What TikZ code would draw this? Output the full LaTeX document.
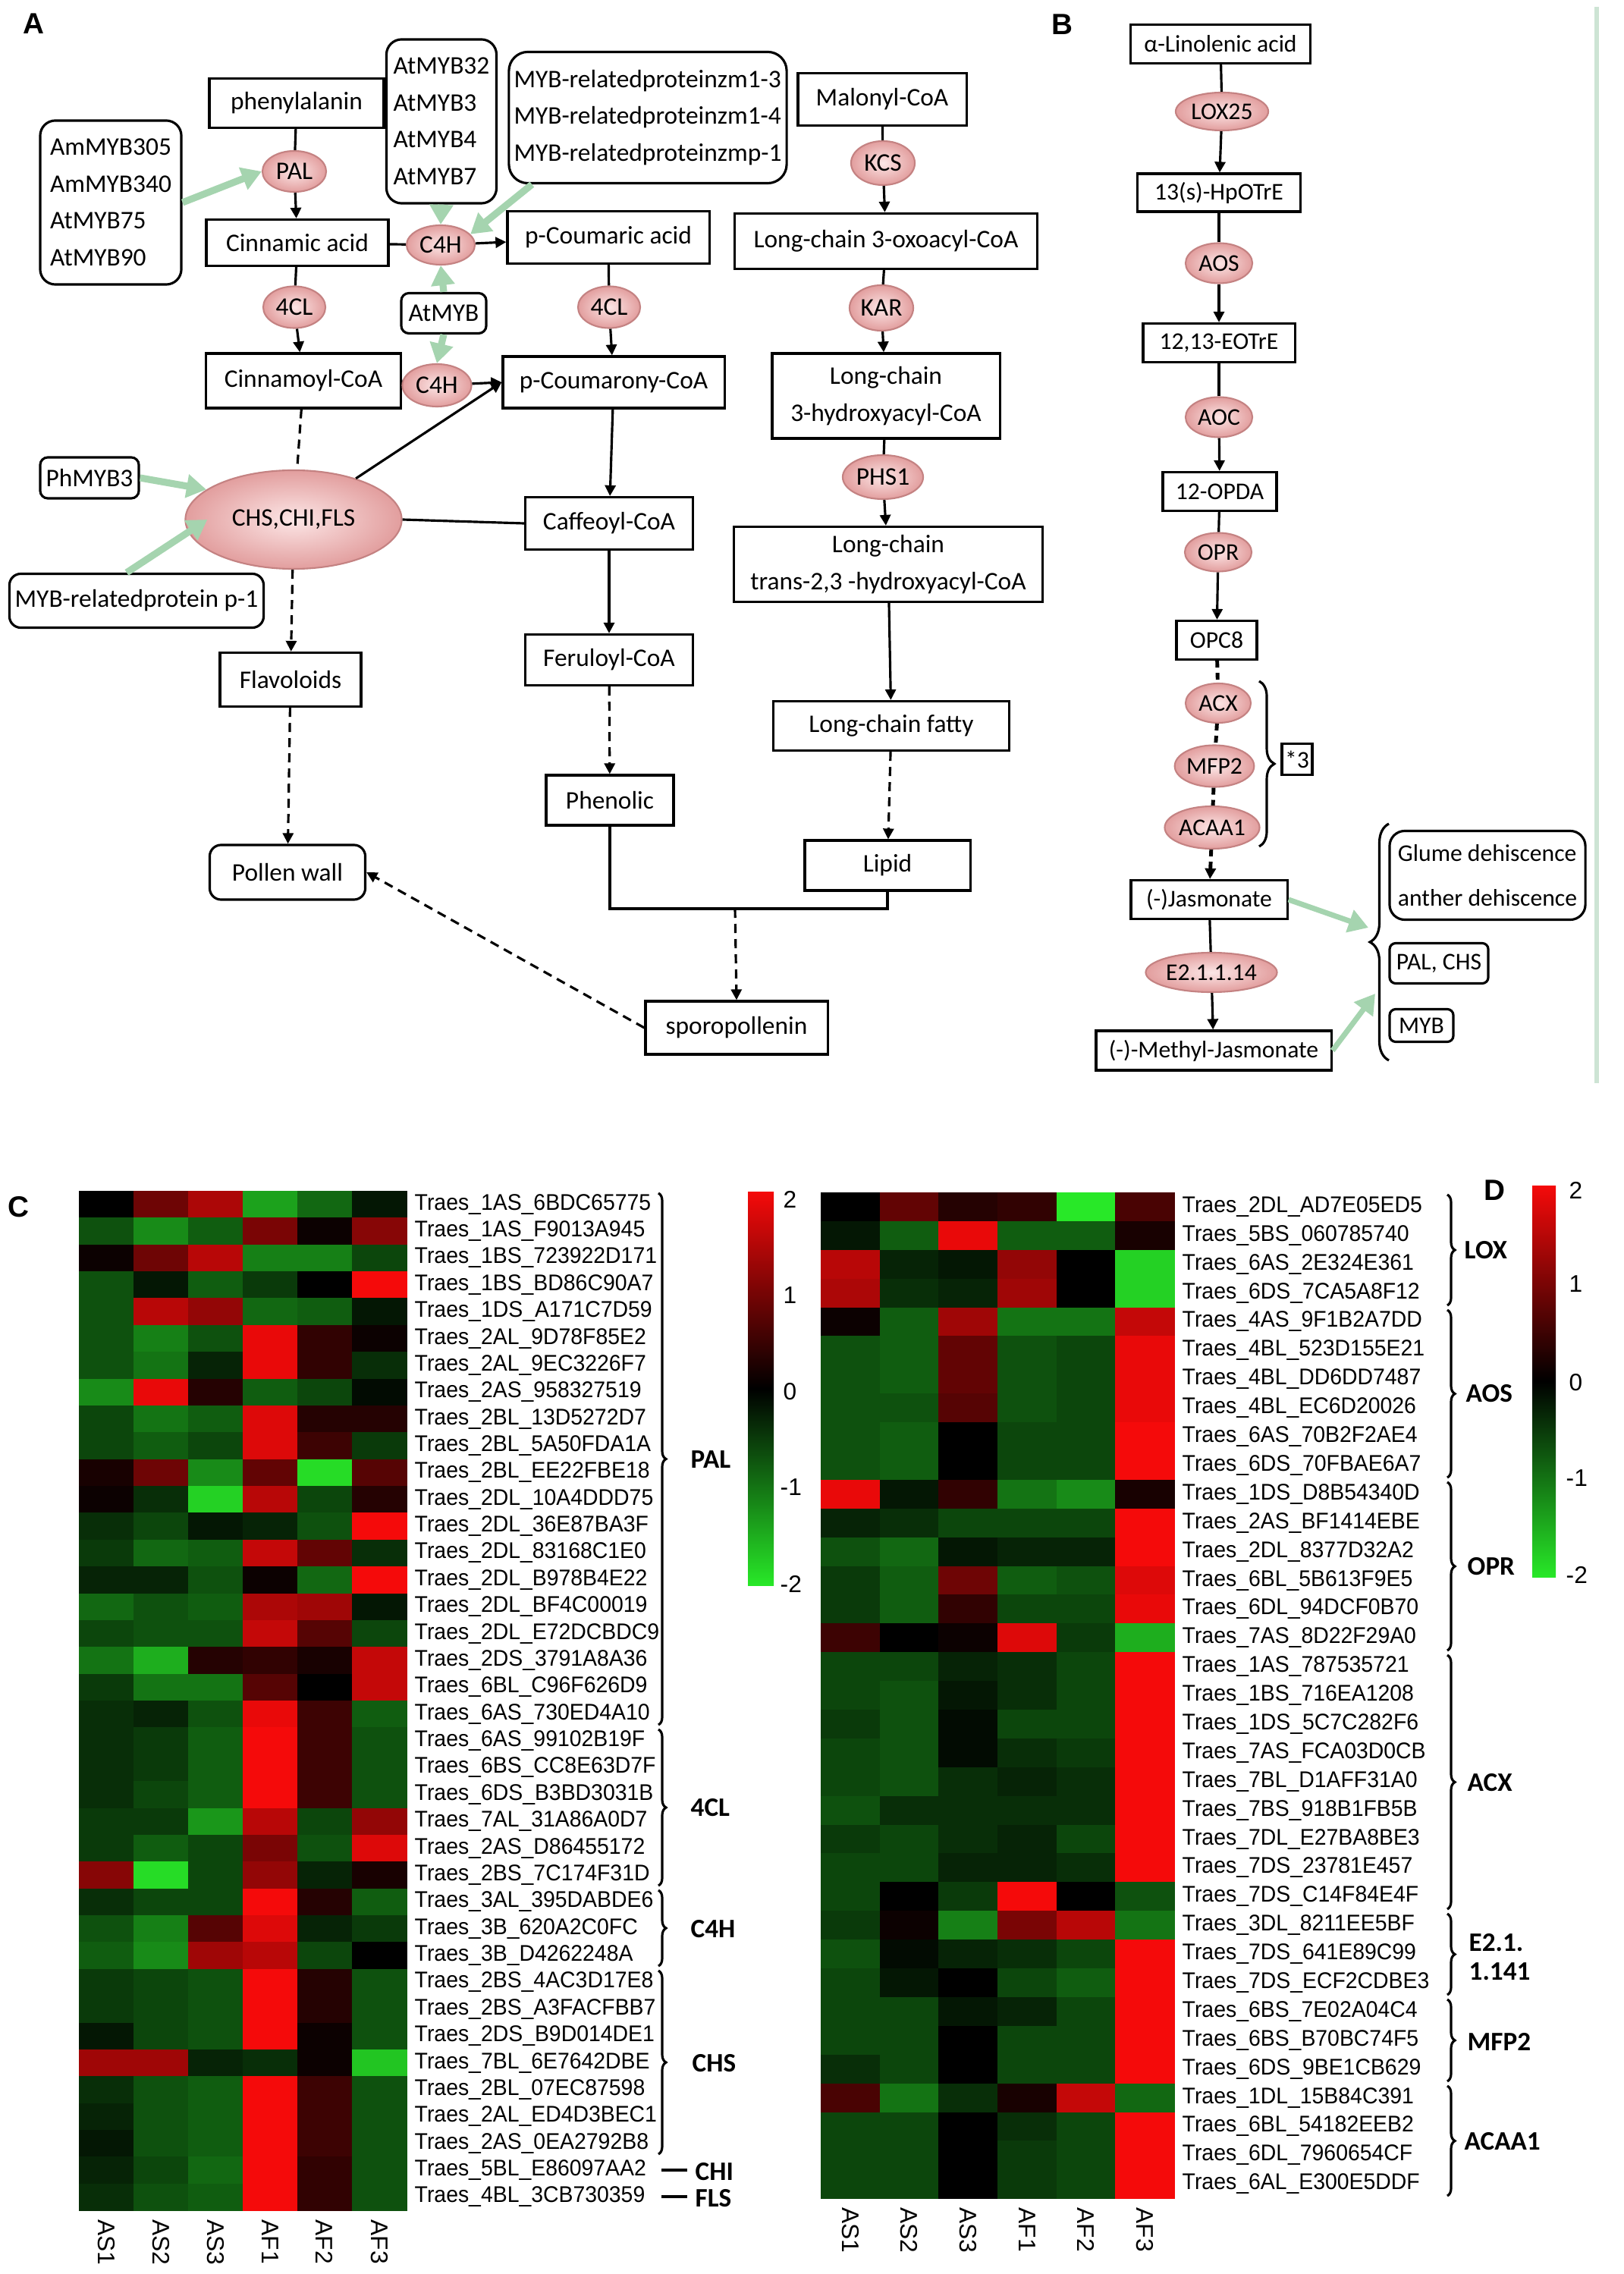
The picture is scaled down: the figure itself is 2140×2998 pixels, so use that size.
\documentclass[tikz,border=0pt]{standalone}
\usepackage{fontspec}
\setmainfont{Carlito}
\newfontfamily\hmfont[FakeStretch=0.95]{Liberation Sans}
\newfontfamily\pnfont{Liberation Sans}
\usepackage{xcolor}
\usepackage{tikz}
\usetikzlibrary{shapes.geometric,arrows.meta,decorations.pathreplacing}

\definecolor{enzin}{RGB}{252,230,230}
\definecolor{enzout}{RGB}{226,158,158}
\definecolor{enzline}{RGB}{196,130,130}
\definecolor{reggreen}{RGB}{165,212,175}
\definecolor{hmred}{RGB}{245,10,10}
\definecolor{hmgreen}{RGB}{40,232,40}
\definecolor{sepline}{RGB}{205,228,212}

\newcommand\sethmcolor[1]{%
  \pgfmathsetmacro\hmpct{min(100,50*abs(#1))}%
  \pgfmathtruncatemacro\hmneg{(#1)<0}%
  \ifnum\hmneg=1 \colorlet{hmc}{hmgreen!\hmpct!black}%
  \else \colorlet{hmc}{hmred!\hmpct!black}\fi}

\begin{document}
\begin{tikzpicture}[x=0.01cm, y=-0.01cm,
    font=\fontsize{9.5}{13.8}\selectfont,
    box/.style={draw, line width=0.9pt, inner sep=0pt, align=center},
    rbox/.style={box, rounded corners=0.2cm},
    enz/.style={ellipse, draw=enzline, line width=0.6pt, inner color=enzin, outer color=enzout, inner sep=0pt},
    bfont/.style={font=\fontsize{9}{12}\selectfont},
    flow/.style={line width=0.9pt, -{Triangle[length=0.14cm, width=0.14cm]}},
    dflow/.style={flow, dash pattern=on 0.12cm off 0.08cm},
    link/.style={line width=0.9pt},
    bdot/.style={line width=1.4pt, dash pattern=on 0.09cm off 0.07cm},
    reg/.style={line width=2.6pt, draw=reggreen, -{Triangle[length=0.26cm, width=0.3cm]}},
    hmlab/.style={anchor=west, inner sep=0pt, font=\hmfont\fontsize{8.5}{10}\selectfont},
    grp/.style={anchor=west, inner sep=0pt, align=left, font=\bfseries\fontsize{10}{11}\selectfont},
    cbar/.style={anchor=west, inner sep=0pt, font=\pnfont\fontsize{9}{10}\selectfont},
    collab/.style={rotate=-90, anchor=west, inner sep=0pt, font=\pnfont\fontsize{9}{10}\selectfont},
    panel/.style={inner sep=0pt, font=\pnfont\bfseries\fontsize{11}{12}\selectfont},
    hbrace/.style={decorate, decoration={brace, amplitude=0.1cm}, line width=0.9pt}]

    \fill[white] (0,0) rectangle (2140,2998);

    % A: phenylpropanoid and fatty acid routes
    \node[panel] (la) at (44,31) {A};
    \node[box, minimum width=2.3cm, minimum height=0.65cm] (phen) at (391,136) {phenylalanin};
    \node[enz, minimum width=0.84cm, minimum height=0.54cm] (pal) at (388,226) {PAL};
    \node[box, minimum width=2.4cm, minimum height=0.61cm] (cin) at (392,320) {Cinnamic acid};
    \node[enz, minimum width=0.9cm, minimum height=0.52cm] (c4ha) at (581,323) {C4H};
    \node[box, minimum width=2.66cm, minimum height=0.69cm] (pcou) at (802,313) {p-Coumaric acid};
    \node[enz, minimum width=0.82cm, minimum height=0.55cm] (cla) at (388,405) {4CL};
    \node[enz, minimum width=0.82cm, minimum height=0.55cm] (clb) at (803,405) {4CL};
    \node[rbox, rounded corners=0.1cm, minimum width=1.12cm, minimum height=0.53cm] (atmyb) at (585,413) {AtMYB};
    \node[box, minimum width=2.57cm, minimum height=0.72cm] (cinco) at (400,502) {Cinnamoyl-CoA};
    \node[enz, minimum width=0.91cm, minimum height=0.56cm] (c4hb) at (576,508) {C4H};
    \node[box, minimum width=2.92cm, minimum height=0.68cm] (pcoa) at (809,504) {p-Coumarony-CoA};
    \node[rbox, align=left, minimum width=1.86cm, minimum height=2.16cm] (ammyb) at (146,267) {AmMYB305\\AmMYB340\\AtMYB75\\AtMYB90};
    \node[rbox, align=left, minimum width=1.45cm, minimum height=2.16cm] (atmybs) at (582,160) {AtMYB32\\AtMYB3\\AtMYB4\\AtMYB7};
    \node[rbox, rounded corners=0.25cm, align=left, minimum width=3.66cm, minimum height=1.73cm] (mybrel) at (854,155) {MYB-relatedproteinzm1-3\\MYB-relatedproteinzm1-4\\MYB-relatedproteinzmp-1};
    \node[enz, minimum width=2.85cm, minimum height=1.3cm] (chs) at (387,685) {CHS,CHI,FLS};
    \node[rbox, rounded corners=0.1cm, minimum width=1.3cm, minimum height=0.54cm] (phmyb) at (118,630) {PhMYB3};
    \node[rbox, rounded corners=0.15cm, minimum width=3.35cm, minimum height=0.71cm] (mybp) at (180,792) {MYB-relatedprotein p-1};
    \node[box, minimum width=2.21cm, minimum height=0.69cm] (caf) at (803,690) {Caffeoyl-CoA};
    \node[box, minimum width=1.86cm, minimum height=0.71cm] (flav) at (383,896) {Flavoloids};
    \node[box, minimum width=2.21cm, minimum height=0.67cm] (fer) at (803,870) {Feruloyl-CoA};
    \node[box, minimum width=1.68cm, minimum height=0.66cm] (phe) at (804,1055) {Phenolic};
    \node[rbox, rounded corners=0.15cm, minimum width=2.05cm, minimum height=0.72cm] (pollen) at (379,1150) {Pollen wall};
    \node[box, minimum width=2.4cm, minimum height=0.7cm] (spo) at (971,1355) {sporopollenin};
    \node[box, minimum width=2.22cm, minimum height=0.69cm] (mal) at (1163,131) {Malonyl-CoA};
    \node[enz, minimum width=0.84cm, minimum height=0.58cm] (kcs) at (1164,215) {KCS};
    \node[box, minimum width=3.98cm, minimum height=0.73cm] (oxo) at (1168,318) {Long-chain 3-oxoacyl-CoA};
    \node[enz, minimum width=0.84cm, minimum height=0.6cm] (kar) at (1162,406) {KAR};
    \node[box, minimum width=3cm, minimum height=1.12cm] (hyd) at (1168,522) {Long-chain\\3-hydroxyacyl-CoA};
    \node[enz, minimum width=1.06cm, minimum height=0.58cm] (phs) at (1164,629) {PHS1};
    \node[box, minimum width=4.07cm, minimum height=0.99cm] (trans) at (1171,744) {Long-chain\\trans-2,3 -hydroxyacyl-CoA};
    \node[box, minimum width=3.11cm, minimum height=0.65cm] (fatty) at (1175,957) {Long-chain fatty};
    \node[box, minimum width=2.18cm, minimum height=0.66cm] (lip) at (1170,1141) {Lipid};
    \coordinate (jn) at (969,1198);

    \draw[link] (phen) -- (pal);
    \draw[flow] (pal) -- (cin);
    \draw[link] (cin) -- (c4ha);
    \draw[flow] (c4ha) -- (pcou);
    \draw[link] (cin) -- (cla);
    \draw[flow] (cla) -- (cinco);
    \draw[link] (pcou) -- (clb);
    \draw[flow] (clb) -- (pcoa);
    \draw[link] (cinco.east) -- (c4hb);
    \draw[flow] (c4hb) -- (pcoa.west);
    \draw[link, dash pattern=on 0.12cm off 0.08cm] (cinco) -- (chs);
    \draw[flow] (chs) -- (pcoa.west);
    \draw[link] (chs.east) -- (caf.west);
    \draw[flow] (pcoa) -- (caf);
    \draw[flow] (caf) -- (fer);
    \draw[dflow] (fer) -- (phe);
    \draw[dflow] (chs) -- (flav);
    \draw[dflow] (flav) -- (pollen);
    \draw[link] (phe.south) |- (jn) -| (lip.south);
    \draw[dflow] (jn) -- (spo.north);
    \draw[dflow] (spo.west) -- (pollen.east);
    \draw[link] (mal) -- (kcs);
    \draw[flow] (kcs) -- (oxo);
    \draw[link] (oxo) -- (kar);
    \draw[flow] (kar) -- (hyd);
    \draw[link] (hyd) -- (phs);
    \draw[flow] (phs) -- (trans);
    \draw[flow] (trans) -- (fatty);
    \draw[dflow] (fatty) -- (lip);

    \draw[reg] (ammyb.east) -- (pal.west);
    \draw[reg] (atmybs.south) -- (c4ha.north);
    \draw[reg] (mybrel.210) -- (c4ha.20);
    \draw[reg] (atmyb.north) -- (c4ha.south);
    \draw[reg] (atmyb.south) -- (c4hb.north);
    \draw[reg] (phmyb.east) -- (chs.161);
    \draw[reg] ([xshift=-0.13cm]mybp.north) -- ([xshift=0.3cm]chs.west);

    % B: jasmonate route
    \node[panel] (lb) at (1400,32) {B};
    \node[box, bfont, minimum width=2.37cm, minimum height=0.51cm] (alin) at (1609,58) {α-Linolenic acid};
    \node[enz, bfont, minimum width=1.22cm, minimum height=0.5cm] (lox) at (1611,147) {LOX25};
    \node[box, bfont, minimum width=2.15cm, minimum height=0.5cm] (hpot) at (1607,254) {13(s)-HpOTrE};
    \node[enz, bfont, minimum width=0.88cm, minimum height=0.53cm] (aos) at (1607,347) {AOS};
    \node[box, bfont, minimum width=2cm, minimum height=0.51cm] (eot) at (1607,452) {12,13-EOTrE};
    \node[enz, bfont, minimum width=0.88cm, minimum height=0.53cm] (aoc) at (1607,550) {AOC};
    \node[box, bfont, minimum width=1.5cm, minimum height=0.51cm] (opda) at (1608,648) {12-OPDA};
    \node[enz, bfont, minimum width=0.88cm, minimum height=0.51cm] (opr) at (1606,728) {OPR};
    \node[box, bfont, minimum width=1.06cm, minimum height=0.51cm] (opc) at (1604,844) {OPC8};
    \node[enz, bfont, minimum width=0.86cm, minimum height=0.52cm] (acx) at (1606,927) {ACX};
    \node[enz, bfont, minimum width=1cm, minimum height=0.55cm] (mfp) at (1601,1010) {MFP2};
    \node[enz, bfont, minimum width=1.25cm, minimum height=0.56cm] (acaa) at (1598,1091) {ACAA1};
    \node[box, bfont, minimum width=0.4cm, minimum height=0.41cm] (times) at (1710,1001) {*3};
    \node[box, bfont, minimum width=2.06cm, minimum height=0.51cm] (jas) at (1594,1186) {(-)Jasmonate};
    \node[enz, bfont, minimum width=1.73cm, minimum height=0.52cm] (etwo) at (1597,1282) {E2.1.1.14};
    \node[box, bfont, minimum width=3.1cm, minimum height=0.52cm] (mjas) at (1600,1385) {(-)-Methyl-Jasmonate};
    \node[rbox, bfont, font=\fontsize{9}{16.8}\selectfont, align=left, minimum width=2.58cm, minimum height=1.17cm] (glume) at (1961,1154) {Glume dehiscence\\anther dehiscence};
    \node[rbox, bfont, rounded corners=0.08cm, minimum width=1.3cm, minimum height=0.53cm] (palchs) at (1897,1270) {PAL, CHS};
    \node[rbox, bfont, rounded corners=0.08cm, minimum width=0.84cm, minimum height=0.43cm] (myb) at (1874,1352) {MYB};
    \coordinate (ga) at (1804,1223);
    \coordinate (gb) at (1813,1310);

    \draw[link] (alin) -- (lox);
    \draw[flow] (lox) -- (hpot);
    \draw[link] (hpot) -- (aos);
    \draw[flow] (aos) -- (eot);
    \draw[link] (eot) -- (aoc);
    \draw[flow] (aoc) -- (opda);
    \draw[link] (opda) -- (opr);
    \draw[flow] (opr) -- (opc);
    \draw[bdot] (opc) -- (acx);
    \draw[bdot] (acx) -- (mfp);
    \draw[bdot] (mfp) -- (acaa);
    \draw[bdot, -{Triangle[length=0.14cm, width=0.14cm]}] (acaa) -- (jas);
    \draw[link] (jas) -- (etwo);
    \draw[flow] (etwo) -- (mjas);
    \draw[decorate, decoration={brace, amplitude=0.2cm}, line width=0.9pt] (1660,898) -- (1660,1116);
    \draw[decorate, decoration={brace, amplitude=0.25cm}, line width=0.9pt] (1831,1398) -- (1831,1086);
    \draw[reg, line width=2pt] (jas.east) -- (ga);
    \draw[reg, line width=2pt] (mjas.east) -- (gb);
    \draw[sepline, line width=1.5pt] (2105,9) -- (2105,1428);

    % C: heat map, phenylpropanoid genes
    \node[panel] (lc) at (24,1591) {C};
    \foreach \vals [count=\r] in {
      {0,0.9,1.4,-1.4,-0.9,-0.2}, {-0.7,-1.2,-0.8,1.0,0.1,1.1},
      {0.1,0.9,1.5,-1.1,-1.1,-0.6}, {-0.7,-0.2,-0.8,-0.5,0,2},
      {-0.7,1.5,1.2,-0.9,-0.8,-0.2}, {-0.7,-1.1,-0.7,1.9,0.4,0.1},
      {-0.7,-1.0,-0.3,1.9,0.4,-0.4}, {-1.2,1.9,0.3,-0.8,-0.6,-0.1},
      {-0.6,-1.0,-0.8,1.8,0.3,0.3}, {-0.6,-0.8,-0.6,1.8,0.5,-0.5},
      {0.2,0.9,-1.2,0.8,-1.9,0.7}, {0.1,-0.4,-1.8,1.5,-0.6,0.3},
      {-0.4,-0.6,-0.2,-0.3,-0.7,2}, {-0.5,-0.9,-0.8,1.6,0.8,-0.4},
      {-0.3,-0.3,-0.7,0.1,-0.9,2}, {-0.9,-0.7,-0.8,1.4,1.3,-0.2},
      {-0.6,-0.7,-0.7,1.6,0.7,-0.6}, {-1.0,-1.5,0.3,0.4,0.2,1.6},
      {-0.5,-1.0,-1.0,0.7,0,1.6}, {-0.4,-0.3,-0.7,1.9,0.5,-0.8},
      {-0.4,-0.5,-0.8,2,0.5,-0.7}, {-0.4,-0.5,-0.8,2,0.5,-0.7},
      {-0.4,-0.6,-0.8,2,0.5,-0.7}, {-0.5,-0.5,-1.3,1.5,-0.6,1.2},
      {-0.5,-0.8,-0.6,1.0,-0.7,1.8}, {1.1,-1.9,-0.6,1.2,-0.3,0.2},
      {-0.4,-0.6,-0.6,2,0.3,-0.8}, {-0.7,-1.1,0.7,1.8,-0.3,-0.5},
      {-0.8,-1.2,1.3,1.5,-0.6,0}, {-0.5,-0.6,-0.7,2,0.3,-0.7},
      {-0.5,-0.6,-0.7,2,0.3,-0.7}, {-0.2,-0.6,-0.7,2,0.1,-0.7},
      {1.3,1.3,-0.3,-0.4,0.1,-1.7}, {-0.4,-0.7,-0.8,2,0.5,-0.7},
      {-0.3,-0.7,-0.8,2,0.5,-0.7}, {-0.2,-0.7,-0.8,2,0.5,-0.7},
      {-0.3,-0.6,-0.9,2,0.4,-0.7}, {-0.4,-0.7,-0.8,2,0.4,-0.7}}{
      \foreach \v [count=\c] in \vals {
        \sethmcolor{\v}
        \fill[hmc] ({104+72*(\c-1)},{1570+35.37*(\r-1)}) rectangle +(72.6,35.9);
      }
    }
    \foreach \lab [count=\r] in {Traes\_1AS\_6BDC65775, Traes\_1AS\_F9013A945, Traes\_1BS\_723922D171,
      Traes\_1BS\_BD86C90A7, Traes\_1DS\_A171C7D59, Traes\_2AL\_9D78F85E2, Traes\_2AL\_9EC3226F7,
      Traes\_2AS\_958327519, Traes\_2BL\_13D5272D7, Traes\_2BL\_5A50FDA1A, Traes\_2BL\_EE22FBE18,
      Traes\_2DL\_10A4DDD75, Traes\_2DL\_36E87BA3F, Traes\_2DL\_83168C1E0, Traes\_2DL\_B978B4E22,
      Traes\_2DL\_BF4C00019, Traes\_2DL\_E72DCBDC9, Traes\_2DS\_3791A8A36, Traes\_6BL\_C96F626D9,
      Traes\_6AS\_730ED4A10, Traes\_6AS\_99102B19F, Traes\_6BS\_CC8E63D7F, Traes\_6DS\_B3BD3031B,
      Traes\_7AL\_31A86A0D7, Traes\_2AS\_D86455172, Traes\_2BS\_7C174F31D, Traes\_3AL\_395DABDE6,
      Traes\_3B\_620A2C0FC, Traes\_3B\_D4262248A, Traes\_2BS\_4AC3D17E8, Traes\_2BS\_A3FACFBB7,
      Traes\_2DS\_B9D014DE1, Traes\_7BL\_6E7642DBE, Traes\_2BL\_07EC87598, Traes\_2AL\_ED4D3BEC1,
      Traes\_2AS\_0EA2792B8, Traes\_5BL\_E86097AA2, Traes\_4BL\_3CB730359}
      \node[hmlab] (cl\r) at (546,{1570+35.37*(\r-0.5)}) {\lab};
    \foreach \lab [count=\c] in {AS1,AS2,AS3,AF1,AF2,AF3}
      \node[collab] (cc\c) at ({140+72*(\c-1)},2926) {\lab};
    \draw[hbrace] (868,1573) -- (868,2274);
    \draw[hbrace] (868,2280) -- (868,2486);
    \draw[hbrace] (868,2492) -- (868,2592);
    \draw[hbrace] (868,2598) -- (868,2840);
    \node[grp] (gpal) at (910,1924) {PAL};
    \node[grp] (gcl) at (910,2383) {4CL};
    \node[grp] (gch) at (910,2543) {C4H};
    \node[grp] (gchs) at (912,2720) {CHS};
    \node[grp] (gchi) at (916,2863) {CHI};
    \node[grp] (gfls) at (916,2898) {FLS};
    \coordinate (chia) at (872,2861);
    \coordinate (chib) at (906,2861);
    \coordinate (flsa) at (872,2896);
    \coordinate (flsb) at (906,2896);
    \draw[line width=1.2pt] (chia) -- (chib);
    \draw[line width=1.2pt] (flsa) -- (flsb);
    \shade[top color=hmred, bottom color=hmgreen, middle color=black] (986,1571) rectangle (1020,2090);
    \node[cbar] (cb2) at (1032,1581) {2};
    \node[cbar] (cb1) at (1032,1708) {1};
    \node[cbar] (cb0) at (1032,1835) {0};
    \node[cbar] (cbm) at (1028,1961) {-1};
    \node[cbar] (cbn) at (1028,2088) {-2};

    % D: heat map, jasmonate genes
    \node[panel] (ld) at (1970,1569) {D};
    \foreach \vals [count=\r] in {
      {0,0.8,0.3,0.4,-2,0.6}, {-0.2,-0.8,1.9,-0.8,-0.8,0.2},
      {1.5,-0.3,-0.2,1.2,0,-1.8}, {1.4,-0.4,-0.3,1.3,0,-1.8},
      {0.1,-0.8,1.3,-1.0,-1.0,1.6}, {-0.7,-0.8,0.8,-0.7,-0.6,1.9},
      {-0.7,-0.8,0.8,-0.7,-0.6,1.9}, {-0.7,-0.7,0.7,-0.7,-0.6,1.9},
      {-0.7,-0.8,0,-0.6,-0.6,2}, {-0.7,-0.8,0,-0.6,-0.6,2},
      {1.9,-0.2,0.4,-1.0,-1.2,0.2}, {-0.3,-0.4,-0.6,-0.6,-0.6,2},
      {-0.7,-0.9,-0.2,-0.3,-0.3,2}, {-0.5,-0.8,0.9,-0.8,-0.7,1.8},
      {-0.5,-0.8,0.4,-0.6,-0.6,1.9}, {0.5,0,0.1,1.8,-0.5,-1.5},
      {-0.6,-0.6,-0.3,-0.4,-0.6,2}, {-0.6,-0.7,-0.2,-0.4,-0.6,2},
      {-0.5,-0.7,-0.1,-0.6,-0.6,2}, {-0.6,-0.7,-0.1,-0.4,-0.5,2},
      {-0.6,-0.7,-0.4,-0.3,-0.4,2}, {-0.7,-0.4,-0.4,-0.4,-0.4,2},
      {-0.5,-0.6,-0.4,-0.3,-0.6,2}, {-0.6,-0.6,-0.3,-0.3,-0.4,2},
      {-0.6,0,-0.5,2,0,-0.7}, {-0.5,0.1,-1.1,1.0,1.5,-1.0},
      {-0.7,-0.1,-0.3,-0.4,-0.6,2}, {-0.6,-0.2,0,-0.6,-0.8,2},
      {-0.6,-0.6,-0.2,-0.3,-0.6,2}, {-0.6,-0.6,0,-0.6,-0.6,2},
      {-0.4,-0.6,0,-0.6,-0.6,2}, {0.6,-1.0,-0.4,0.2,1.6,-0.9},
      {-0.6,-0.6,0,-0.4,-0.6,2}, {-0.6,-0.6,0,-0.5,-0.6,2},
      {-0.6,-0.6,0,-0.5,-0.6,2}}{
      \foreach \v [count=\c] in \vals {
        \sethmcolor{\v}
        \fill[hmc] ({1082+77.67*(\c-1)},{1572+37.89*(\r-1)}) rectangle +(78.2,38.4);
      }
    }
    \foreach \lab [count=\r] in {Traes\_2DL\_AD7E05ED5, Traes\_5BS\_060785740, Traes\_6AS\_2E324E361,
      Traes\_6DS\_7CA5A8F12, Traes\_4AS\_9F1B2A7DD, Traes\_4BL\_523D155E21, Traes\_4BL\_DD6DD7487,
      Traes\_4BL\_EC6D20026, Traes\_6AS\_70B2F2AE4, Traes\_6DS\_70FBAE6A7, Traes\_1DS\_D8B54340D,
      Traes\_2AS\_BF1414EBE, Traes\_2DL\_8377D32A2, Traes\_6BL\_5B613F9E5, Traes\_6DL\_94DCF0B70,
      Traes\_7AS\_8D22F29A0, Traes\_1AS\_787535721, Traes\_1BS\_716EA1208, Traes\_1DS\_5C7C282F6,
      Traes\_7AS\_FCA03D0CB, Traes\_7BL\_D1AFF31A0, Traes\_7BS\_918B1FB5B, Traes\_7DL\_E27BA8BE3,
      Traes\_7DS\_23781E457, Traes\_7DS\_C14F84E4F, Traes\_3DL\_8211EE5BF, Traes\_7DS\_641E89C99,
      Traes\_7DS\_ECF2CDBE3, Traes\_6BS\_7E02A04C4, Traes\_6BS\_B70BC74F5, Traes\_6DS\_9BE1CB629,
      Traes\_1DL\_15B84C391, Traes\_6BL\_54182EEB2, Traes\_6DL\_7960654CF, Traes\_6AL\_E300E5DDF}
      \node[hmlab] (dl\r) at (1558,{1572+37.89*(\r-0.5)}) {\lab};
    \foreach \lab [count=\c] in {AS1,AS2,AS3,AF1,AF2,AF3}
      \node[collab] (dc\c) at ({1121+77.67*(\c-1)},2910) {\lab};
    \draw[hbrace] (1908,1575) -- (1908,1721);
    \draw[hbrace] (1908,1727) -- (1908,1948);
    \draw[hbrace] (1908,1954) -- (1908,2176);
    \draw[hbrace] (1908,2182) -- (1908,2517);
    \draw[hbrace] (1908,2523) -- (1908,2630);
    \draw[hbrace] (1908,2636) -- (1908,2744);
    \draw[hbrace] (1908,2750) -- (1908,2895);
    \node[grp] (glox) at (1930,1648) {LOX};
    \node[grp] (gaos) at (1932,1837) {AOS};
    \node[grp] (gopr) at (1934,2065) {OPR};
    \node[grp] (gacx) at (1934,2350) {ACX};
    \node[grp] (ge) at (1936,2580) {E2.1.\\1.141};
    \node[grp] (gmfp) at (1934,2692) {MFP2};
    \node[grp] (gacaa) at (1930,2823) {ACAA1};
    \shade[top color=hmred, bottom color=hmgreen, middle color=black] (2020,1563) rectangle (2051,2079);
    \node[cbar] (db2) at (2068,1569) {2};
    \node[cbar] (db1) at (2068,1693) {1};
    \node[cbar] (db0) at (2068,1823) {0};
    \node[cbar] (dbm) at (2064,1949) {-1};
    \node[cbar] (dbn) at (2064,2076) {-2};
\end{tikzpicture}
\end{document}
